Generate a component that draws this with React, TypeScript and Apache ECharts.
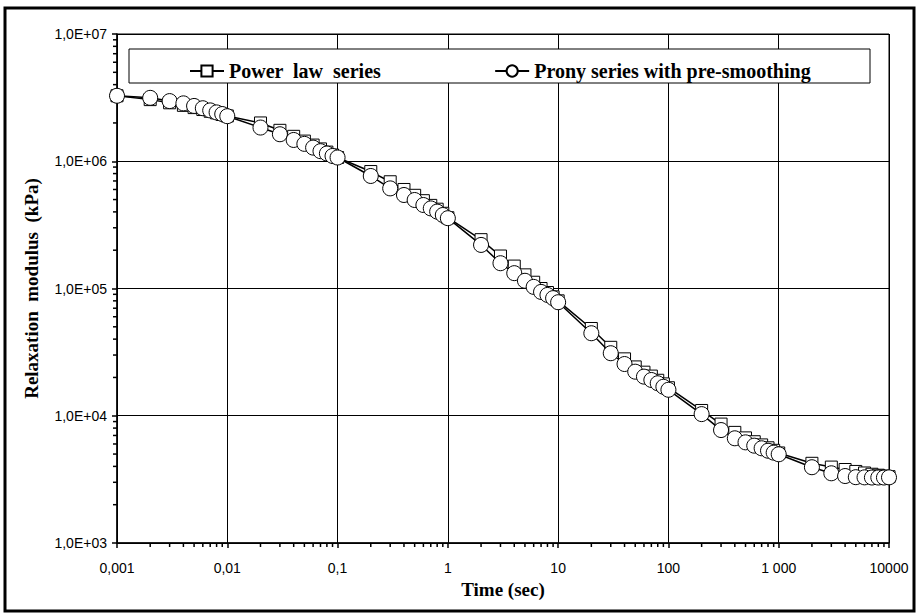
import React, { useEffect, useRef } from "react";
import * as echarts from "echarts";

// Time points (sec): 1..9 x each decade from 0.001 up to 10000
const times = [
  0.001, 0.002, 0.003, 0.004, 0.005, 0.006, 0.007, 0.008, 0.009,
  0.01, 0.02, 0.03, 0.04, 0.05, 0.06, 0.07, 0.08, 0.09,
  0.1, 0.2, 0.3, 0.4, 0.5, 0.6, 0.7, 0.8, 0.9,
  1, 2, 3, 4, 5, 6, 7, 8, 9,
  10, 20, 30, 40, 50, 60, 70, 80, 90,
  100, 200, 300, 400, 500, 600, 700, 800, 900,
  1000, 2000, 3000, 4000, 5000, 6000, 7000, 8000, 9000,
  10000,
];

// Relaxation modulus (kPa), power law fit
const powerLaw = [
  3.27e6, 3.05e6, 2.88e6, 2.75e6, 2.64e6, 2.55e6, 2.47e6, 2.4e6, 2.33e6,
  2.27e6, 2.0e6, 1.75e6, 1.57e6, 1.44e6, 1.34e6, 1.25e6, 1.18e6, 1.12e6,
  1.07e6, 8.3e5, 6.9e5, 6.0e5, 5.4e5, 4.9e5, 4.5e5, 4.2e5, 3.9e5,
  3.6e5, 2.42e5, 1.8e5, 1.5e5, 1.28e5, 1.12e5, 1.0e5, 9.3e4, 8.6e4,
  8.0e4, 4.85e4, 3.45e4, 2.8e4, 2.42e4, 2.2e4, 2.05e4, 1.9e4, 1.78e4,
  1.66e4, 1.1e4, 8.6e3, 7.4e3, 6.7e3, 6.25e3, 5.9e3, 5.6e3, 5.35e3,
  5.1e3, 4.23e3, 3.95e3, 3.78e3, 3.65e3, 3.55e3, 3.47e3, 3.41e3, 3.36e3,
  3.32e3,
];

// Relaxation modulus (kPa), Prony series with pre-smoothing
const prony = [
  3.27e6, 3.15e6, 2.97e6, 2.85e6, 2.72e6, 2.61e6, 2.51e6, 2.42e6, 2.35e6,
  2.26e6, 1.84e6, 1.63e6, 1.47e6, 1.37e6, 1.28e6, 1.2e6, 1.15e6, 1.1e6,
  1.07e6, 7.66e5, 6.12e5, 5.43e5, 4.96e5, 4.53e5, 4.26e5, 4.02e5, 3.78e5,
  3.57e5, 2.2e5, 1.58e5, 1.32e5, 1.15e5, 1.03e5, 9.4e4, 8.9e4, 8.4e4,
  7.8e4, 4.45e4, 3.1e4, 2.55e4, 2.22e4, 2.03e4, 1.91e4, 1.8e4, 1.69e4,
  1.6e4, 1.03e4, 7.72e3, 6.65e3, 6.18e3, 5.82e3, 5.55e3, 5.31e3, 5.13e3,
  4.98e3, 3.94e3, 3.53e3, 3.36e3, 3.29e3, 3.28e3, 3.27e3, 3.27e3, 3.27e3,
  3.28e3,
];

// Decade tick labels, lowest decade first
const xTickLabels = ["0,001", "0,01", "0,1", "1", "10", "100", "1 000", "10000"];
const yTickLabels = ["1,0E+03", "1,0E+04", "1,0E+05", "1,0E+06", "1,0E+07"];

// Minor tick positions on the log axes (2..9 within each decade)
const minorSteps = [2, 3, 4, 5, 6, 7, 8, 9];
const xDecadeStarts = [0.001, 0.01, 0.1, 1, 10, 100, 1000];
const yDecadeStarts = [1e3, 1e4, 1e5, 1e6];

const X_MIN = 0.001;
const X_MAX = 10000;
const Y_MIN = 1e3;
const Y_MAX = 1e7;

const SERIF = "'Liberation Serif', 'DejaVu Serif', serif";
const SANS = "'Liberation Sans', Arial, sans-serif";

const decadeIndex = (v: number, min: number) =>
  Math.round(Math.log10(v) - Math.log10(min));

export default function App() {
  const ref = useRef<HTMLDivElement>(null);

  useEffect(() => {
    if (!ref.current) return;
    const chart = echarts.init(ref.current, undefined, { renderer: "svg" });

    const xMinor = xDecadeStarts.flatMap((d) => minorSteps.map((m) => [m * d, Y_MIN]));
    const yMinor = yDecadeStarts.flatMap((d) => minorSteps.map((m) => [X_MIN, m * d]));

    const markerStyle = { color: "#fff", borderColor: "#000", borderWidth: 1 };

    chart.setOption({
      animation: false,
      backgroundColor: "#fff",
      grid: {
        left: 117,
        right: 31,
        top: 34,
        bottom: 72,
        show: true,
        borderColor: "#000",
        borderWidth: 1,
        backgroundColor: "transparent",
      },
      legend: {
        data: ["Power  law  series", "Prony series with pre-smoothing"],
        left: 184,
        top: 56,
        z: 10,
        itemWidth: 34,
        itemHeight: 14,
        itemGap: 113,
        textStyle: {
          fontFamily: SERIF,
          fontWeight: "bold",
          fontSize: 20,
          color: "#000",
        },
      },
      graphic: [
        {
          type: "rect",
          z: 5,
          shape: { x: 129, y: 49, width: 741, height: 34 },
          style: { fill: "#fff", stroke: "#000", lineWidth: 1 },
        },
        {
          type: "rect",
          z: 5,
          shape: { x: 5, y: 8, width: 909, height: 603 },
          style: { fill: "none", stroke: "#000", lineWidth: 3 },
        },
      ],
      xAxis: {
        type: "log",
        logBase: 10,
        min: X_MIN,
        max: X_MAX,
        name: "Time (sec)",
        nameLocation: "middle",
        nameGap: 36,
        nameTextStyle: { fontFamily: SERIF, fontWeight: "bold", fontSize: 19, color: "#000" },
        axisLine: { lineStyle: { color: "#000", width: 1.5 } },
        axisTick: { show: true, inside: false, length: 5, lineStyle: { color: "#000", width: 1.5 } },
        axisLabel: {
          margin: 18,
          fontFamily: SANS,
          fontSize: 14,
          color: "#000",
          formatter: (v: number) => xTickLabels[decadeIndex(v, X_MIN)] ?? "",
        },
        splitLine: { show: true, lineStyle: { color: "#000", width: 1 } },
      },
      yAxis: {
        type: "log",
        logBase: 10,
        min: Y_MIN,
        max: Y_MAX,
        name: "Relaxation  modulus  (kPa)",
        nameLocation: "middle",
        nameGap: 76,
        nameTextStyle: { fontFamily: SERIF, fontWeight: "bold", fontSize: 19, color: "#000" },
        axisLine: { lineStyle: { color: "#000", width: 1.5 } },
        axisTick: { show: true, inside: false, length: 5, lineStyle: { color: "#000", width: 1.5 } },
        axisLabel: {
          margin: 10,
          fontFamily: SANS,
          fontSize: 14,
          color: "#000",
          formatter: (v: number) => yTickLabels[decadeIndex(v, Y_MIN)] ?? "",
        },
        splitLine: { show: true, lineStyle: { color: "#000", width: 1 } },
      },
      series: [
        {
          type: "custom",
          silent: true,
          clip: false,
          z: 3,
          data: xMinor,
          renderItem: (_p: any, api: any) => {
            const pt = api.coord([api.value(0), api.value(1)]);
            return {
              type: "line",
              shape: { x1: pt[0], y1: pt[1], x2: pt[0], y2: pt[1] + 4 },
              style: { stroke: "#000", lineWidth: 1.5 },
            };
          },
        },
        {
          type: "custom",
          silent: true,
          clip: false,
          z: 3,
          data: yMinor,
          renderItem: (_p: any, api: any) => {
            const pt = api.coord([api.value(0), api.value(1)]);
            return {
              type: "line",
              shape: { x1: pt[0], y1: pt[1], x2: pt[0] - 4, y2: pt[1] },
              style: { stroke: "#000", lineWidth: 1.5 },
            };
          },
        },
        {
          name: "Power  law  series",
          type: "line",
          z: 3,
          data: times.map((t, i) => [t, powerLaw[i]]),
          symbol: "rect",
          symbolSize: 12,
          showAllSymbol: true,
          lineStyle: { color: "#000", width: 1.5 },
          itemStyle: markerStyle,
        },
        {
          name: "Prony series with pre-smoothing",
          type: "line",
          z: 4,
          data: times.map((t, i) => [t, prony[i]]),
          symbol: "circle",
          symbolSize: 15,
          showAllSymbol: true,
          lineStyle: { color: "#000", width: 1.5 },
          itemStyle: markerStyle,
        },
      ],
    });

    return () => chart.dispose();
  }, []);

  return (
    <div
      ref={ref}
      style={{ position: "fixed", left: 0, top: 0, width: 920, height: 615, background: "#fff" }}
    />
  );
}
